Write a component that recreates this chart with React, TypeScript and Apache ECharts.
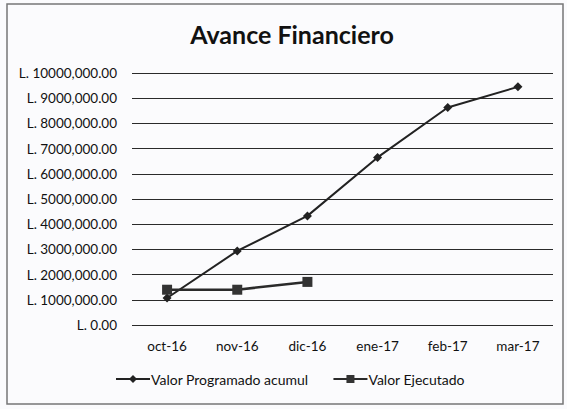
import React, { useEffect, useRef } from "react";
import * as echarts from "echarts";

const categories = ["oct-16", "nov-16", "dic-16", "ene-17", "feb-17", "mar-17"];
const programado = [1070000, 2940000, 4330000, 6650000, 8630000, 9450000];
const ejecutado = [1400000, 1400000, 1710000, null, null, null];
const seriesNames = ["Valor Programado acumul", "Valor Ejecutado"];
const titleText = "Avance Financiero";

const FONT = "Lato, 'Open Sans', sans-serif";

export default function App() {
  const ref = useRef<HTMLDivElement>(null);
  useEffect(() => {
    if (!ref.current) return;
    const chart = echarts.init(ref.current, null, { renderer: "svg" });
    chart.setOption({
      animation: false,
      backgroundColor: "#fbfbfd",
      textStyle: { fontFamily: FONT },
      title: {
        text: titleText,
        left: 287,
        textAlign: "center",
        top: 16,
        textStyle: { fontFamily: FONT, fontSize: 25, fontWeight: "bold", color: "#111" },
      },
      graphic: [
        {
          type: "rect",
          shape: { x: 7, y: 4, width: 556, height: 400 },
          style: { fill: "none", stroke: "#777", lineWidth: 1.5 },
          silent: true,
        },
      ],
      legend: {
        bottom: 18,
        left: 110,
        itemGap: 24,
        itemWidth: 34,
        itemHeight: 10,
        textStyle: { fontFamily: FONT, fontSize: 14, color: "#111", padding: [0, 0, 0, -4] },
        data: [seriesNames[0], seriesNames[1]],
      },
      grid: { left: 132, right: 14, top: 73, bottom: 84, containLabel: false },
      xAxis: {
        type: "category",
        data: categories,
        boundaryGap: true,
        axisLine: { show: false },
        axisTick: { show: false },
        axisLabel: { fontFamily: FONT, fontSize: 13.5, color: "#111", margin: 14 },
      },
      yAxis: {
        type: "value",
        min: 0,
        max: 10000000,
        interval: 1000000,
        axisLine: { show: false },
        axisTick: { show: false },
        splitLine: { lineStyle: { color: "#2a2a2a", width: 1.2 } },
        axisLabel: {
          fontFamily: FONT,
          fontSize: 13.5,
          color: "#111",
          margin: 15,
          formatter: (v: number) => "L. " + (v === 0 ? "0.00" : v / 1000 + ",000.00"),
        },
      },
      series: [
        {
          name: seriesNames[0],
          type: "line",
          data: programado,
          symbol: "diamond",
          symbolSize: 9,
          lineStyle: { color: "#222", width: 2 },
          itemStyle: { color: "#222" },
        },
        {
          name: seriesNames[1],
          type: "line",
          data: ejecutado,
          symbol: "rect",
          symbolSize: 10,
          lineStyle: { color: "#2a2a2a", width: 2.5 },
          itemStyle: { color: "#333" },
        },
      ],
    });
    return () => chart.dispose();
  }, []);
  return (
    <div
      ref={ref}
      style={{ position: "fixed", left: 0, top: 0, width: 567, height: 409 }}
    />
  );
}
